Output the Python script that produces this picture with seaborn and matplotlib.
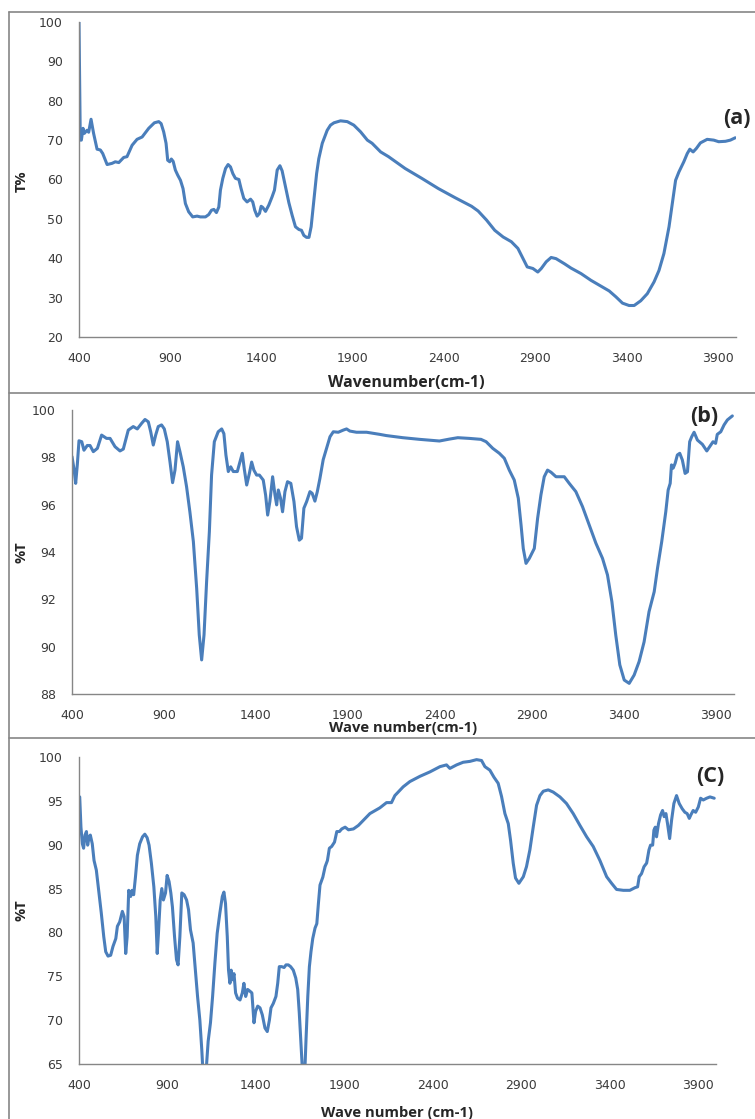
import numpy as np
import pandas as pd
import matplotlib
matplotlib.use("Agg")
import matplotlib.pyplot as plt
from matplotlib.lines import Line2D
import seaborn as sns

# Espectro (a)
wn_a = [400, 407, 413, 422, 429, 444, 453, 466, 480, 499, 517, 530, 554, 581, 599, 618, 645, 663,
        691, 718, 746, 782, 813, 837, 850, 864, 877, 886, 897, 906, 916, 928, 941, 956, 970, 983,
        1001, 1023, 1047, 1065, 1093, 1111, 1126, 1139, 1153, 1166, 1175, 1188, 1203, 1217, 1230,
        1243, 1257, 1276, 1288, 1303, 1321, 1340, 1352, 1363, 1376, 1389, 1398, 1407, 1422, 1440,
        1458, 1471, 1486, 1501, 1513, 1532, 1550, 1568, 1586, 1605, 1619, 1632, 1647, 1660, 1672,
        1687, 1702, 1714, 1733, 1760, 1778, 1797, 1833, 1870, 1906, 1943, 1980, 2006, 2053, 2096,
        2187, 2278, 2369, 2460, 2551, 2587, 2633, 2678, 2724, 2769, 2805, 2833, 2856, 2887, 2914,
        2933, 2960, 2987, 3014, 3060, 3096, 3151, 3205, 3260, 3305, 3342, 3378, 3414, 3442, 3478,
        3514, 3551, 3578, 3605, 3633, 3651, 3669, 3687, 3714, 3733, 3747, 3765, 3783, 3805, 3842,
        3878, 3905, 3942, 3969, 3996]
t_a = [100, 70, 70, 73, 71.7, 72.5, 72, 75.3, 71.7, 67.7, 67.5, 66.6, 63.8, 64.1, 64.5, 64.3, 65.6,
       65.8, 68.7, 70.2, 70.8, 73, 74.4, 74.7, 74.2, 72.1, 69.2, 64.9, 64.5, 65.2, 64.6, 62.4, 61.1,
       59.8, 57.7, 53.9, 51.8, 50.5, 50.7, 50.5, 50.5, 51.1, 52.2, 52.4, 51.6, 53, 57.3, 60.3, 62.8,
       63.8, 63.2, 61.5, 60.3, 60, 57.7, 55.2, 54.3, 55, 54.3, 52.2, 50.7, 51.4, 53.2, 52.9, 51.9,
       53.5, 55.6, 57.3, 62.4, 63.5, 62.2, 58.1, 54.1, 50.9, 48, 47.3, 47.1, 45.8, 45.3, 45.3, 48,
       54.7, 61.5, 65.3, 69.2, 72.5, 73.8, 74.4, 74.9, 74.7, 73.8, 72.1, 70, 69.2, 67, 65.8,
       62.8, 60.3, 57.7, 55.4, 53.2, 52, 49.7, 47.1, 45.4, 44.2, 42.5, 39.9, 37.8, 37.4, 36.5,
       37.4, 39.1, 40.2, 39.9, 38.6, 37.5, 36.1, 34.4, 32.9, 31.7, 30.2, 28.6, 28, 28, 29.2,
       31, 34, 36.9, 41.2, 48, 53.9, 59.8, 61.9, 64.5, 66.6, 67.7, 67, 67.9, 69.3, 70.2,
       70, 69.6, 69.7, 70, 70.6]

# Espectro (b)
wn_b = [400, 411, 420, 429, 438, 453, 465, 483, 498, 516, 538, 561, 574, 588, 607, 634, 661, 679,
        706, 733, 755, 779, 797, 815, 828, 842, 855, 869, 887, 902, 918, 933, 947, 960, 974, 987,
        1005, 1023, 1041, 1060, 1078, 1092, 1105, 1118, 1132, 1147, 1159, 1174, 1195, 1214, 1226,
        1237, 1250, 1263, 1277, 1299, 1313, 1326, 1337, 1350, 1364, 1377, 1389, 1404, 1419, 1440,
        1453, 1464, 1476, 1491, 1504, 1513, 1522, 1534, 1545, 1558, 1572, 1590, 1607, 1621, 1636,
        1648, 1661, 1676, 1694, 1706, 1721, 1734, 1748, 1766, 1784, 1803, 1821, 1848, 1875, 1893,
        1911, 1947, 2002, 2074, 2109, 2199, 2290, 2398, 2452, 2498, 2561, 2624, 2652, 2688, 2724,
        2751, 2778, 2805, 2827, 2842, 2854, 2869, 2887, 2914, 2932, 2950, 2968, 2986, 3005, 3032,
        3077, 3104, 3140, 3176, 3213, 3249, 3285, 3312, 3336, 3357, 3379, 3403, 3430, 3457, 3484,
        3511, 3538, 3566, 3584, 3607, 3629, 3642, 3653, 3660, 3669, 3680, 3692, 3705, 3719, 3734,
        3747, 3759, 3770, 3783, 3801, 3828, 3852, 3868, 3886, 3900, 3909, 3928, 3946, 3964, 3991]
t_b = [98.03, 97.5, 96.9, 97.7, 98.7, 98.66, 98.3, 98.5, 98.5, 98.24, 98.38, 98.94, 98.87, 98.8,
       98.8, 98.45, 98.27, 98.35, 99.15, 99.3, 99.2, 99.44, 99.6, 99.5, 99.08, 98.52, 98.94, 99.3,
       99.37, 99.2, 98.66, 97.8, 96.93, 97.46, 98.66, 98.24, 97.6, 96.76, 95.7, 94.44, 92.46, 90.5,
       89.44, 90.5, 92.75, 94.86, 97.25, 98.66, 99.08, 99.2, 99.0, 98.1, 97.4, 97.6, 97.4, 97.4,
       97.8, 98.17, 97.5, 96.83, 97.3, 97.8, 97.46, 97.25, 97.25, 97.04, 96.4, 95.56, 96.13, 97.18,
       96.4, 95.99, 96.62, 96.27, 95.7, 96.55, 96.97, 96.9, 96.13, 95.07, 94.5, 94.58, 95.85, 96.13,
       96.55, 96.48, 96.15, 96.55, 97.1, 97.9, 98.38, 98.87, 99.08, 99.06, 99.15, 99.2, 99.11,
       99.06, 99.06, 98.97, 98.92, 98.83, 98.76, 98.69, 98.77, 98.83, 98.8, 98.76, 98.66, 98.38,
       98.17, 97.96, 97.46, 97.04, 96.27, 95.14, 94.15, 93.52, 93.73, 94.15, 95.42, 96.41, 97.18,
       97.46, 97.37, 97.18, 97.18, 96.9, 96.55, 95.92, 95.14, 94.37, 93.73, 93.03, 91.9, 90.49,
       89.23, 88.59, 88.45, 88.8, 89.37, 90.2, 91.48, 92.32, 93.31, 94.44, 95.7, 96.62, 96.9,
       97.68, 97.54, 97.75, 98.1, 98.17, 97.89, 97.32, 97.39, 98.66, 98.87, 99.06, 98.73, 98.55,
       98.27, 98.45, 98.66, 98.59, 98.97, 99.08, 99.37, 99.58, 99.75]

# Espectro (c)
wn_c = [404, 411, 419, 426, 434, 442, 449, 457, 464, 475, 485, 498, 511, 526, 540, 551, 564, 579,
        592, 608, 617, 630, 645, 655, 664, 672, 681, 692, 700, 709, 719, 730, 743, 759, 772, 785,
        796, 809, 823, 834, 842, 849, 859, 868, 877, 889, 898, 909, 919, 928, 940, 951, 960, 970,
        981, 994, 1008, 1019, 1030, 1045, 1058, 1070, 1083, 1094, 1102, 1109, 1117, 1130, 1143,
        1155, 1168, 1181, 1196, 1210, 1219, 1228, 1238, 1245, 1253, 1260, 1268, 1276, 1285, 1296,
        1310, 1323, 1332, 1342, 1353, 1366, 1377, 1389, 1398, 1410, 1423, 1436, 1451, 1464, 1476,
        1485, 1498, 1513, 1523, 1532, 1545, 1559, 1570, 1583, 1596, 1611, 1625, 1636, 1645, 1655,
        1664, 1670, 1676, 1683, 1693, 1702, 1711, 1721, 1734, 1744, 1753, 1762, 1778, 1791, 1804,
        1815, 1828, 1844, 1857, 1872, 1885, 1904, 1923, 1951, 1979, 2008, 2044, 2100, 2138, 2166,
        2185, 2232, 2270, 2327, 2383, 2440, 2477, 2496, 2534, 2571, 2609, 2647, 2675, 2694, 2722,
        2745, 2769, 2788, 2807, 2826, 2839, 2854, 2867, 2886, 2911, 2929, 2948, 2967, 2986, 3005,
        3024, 3052, 3080, 3118, 3155, 3193, 3231, 3269, 3306, 3344, 3382, 3410, 3438, 3476, 3513,
        3542, 3557, 3566, 3579, 3593, 3608, 3621, 3630, 3642, 3649, 3657, 3664, 3675, 3687, 3698,
        3707, 3717, 3726, 3738, 3749, 3762, 3777, 3792, 3809, 3824, 3837, 3849, 3858, 3871, 3885,
        3900, 3913, 3928, 3947, 3966, 3990]
t_c = [95.45, 92, 90.1, 89.6, 91.1, 91.5, 89.95, 90.9, 91.1, 90.1, 88.2, 87.1, 84.8, 82.2, 79.5,
       77.8, 77.3, 77.4, 78.4, 79.3, 80.7, 81.2, 82.4, 81.8, 77.6, 79.5, 84.8, 84.1, 84.8, 84.3,
       86.3, 88.8, 90.1, 90.9, 91.2, 90.8, 89.95, 87.9, 85.2, 81.8, 77.6, 79.9, 83.7, 85, 83.7,
       84.5, 86.5, 85.8, 84.5, 82.9, 79.5, 76.9, 76.3, 79.5, 84.5, 84.3, 83.7, 82.6, 80.3, 78.8,
       75.7, 72.7, 70, 66.6, 63.5, 62.5, 63.8, 67.6, 69.7, 72.7, 76.5, 79.9, 82.2, 84.1, 84.6,
       83.3, 79.5, 75.7, 74.2, 75.7, 74.6, 75.3, 73.1, 72.5, 72.3, 73.1, 74.2, 72.7, 73.5, 73.3,
       73.1, 69.7, 71, 71.6, 71.4, 70.6, 69.1, 68.7, 70, 71.4, 71.9, 72.7, 74.2, 76.1, 76.1, 76,
       76.3, 76.3, 76.1, 75.7, 74.8, 73.5, 70.8, 67, 63.8, 62.8, 64.0, 67.8, 72.7, 76.1, 77.8,
       79.3, 80.5, 81, 83.3, 85.4, 86.3, 87.5, 88.2, 89.6, 89.8, 90.3, 91.5, 91.5, 91.8, 92,
       91.7, 91.8, 92.2, 92.8, 93.55, 94.2, 94.8, 94.8, 95.6, 96.6, 97.2, 97.8, 98.3, 98.9, 99.1,
       98.7, 99.1, 99.4, 99.5, 99.7, 99.6, 98.9, 98.5, 97.7, 97, 95.5, 93.55, 92.4, 90.5, 87.9,
       86.2, 85.6, 86.35, 87.5, 89.4, 92, 94.5, 95.6, 96.1, 96.25, 96, 95.45, 94.7, 93.55, 92.2,
       90.9, 89.8, 88.2, 86.35, 85.6, 84.9, 84.8, 84.8, 85.1, 85.2, 86.35, 86.7, 87.5, 87.9, 89.4,
       89.95, 89.95, 91.65, 92, 90.9, 92.4, 93.4, 93.9, 93.2, 93.55, 92.4, 90.7, 92.8, 94.7, 95.6,
       94.7, 94.1, 93.7, 93.55, 93, 93.4, 93.9, 93.7, 94.3, 95.3, 95.1, 95.3, 95.45, 95.3]

xticks = [400, 900, 1400, 1900, 2400, 2900, 3400, 3900]
cor_linha = "#4A7EBB"
cor_eixo = "#868686"

sns.set_style("white")
plt.rcParams["font.family"] = ["DejaVu Sans"]

fig = plt.figure(figsize=(7.55, 11.19), dpi=100)
W, H = 755.0, 1119.0


def caixa(px_l, px_t, px_r, px_b):
    return [px_l / W, 1 - px_b / H, (px_r - px_l) / W, (px_b - px_t) / H]


paineis = [
    dict(wn=wn_a, t=t_a, box=caixa(79, 22, 736, 337), ylim=(20, 100), yticks=range(20, 101, 10),
         ylabel="T%", xlabel="Wavenumber(cm-1)", xlab_fs=11.5, tag="(a)", tag_xy=(737, 119),
         xlab_xy=(406, 383), ylab_y=181),
    dict(wn=wn_b, t=t_b, box=caixa(72, 410, 734, 694), ylim=(88, 100), yticks=range(88, 101, 2),
         ylabel="%T", xlabel="Wave number(cm-1)", xlab_fs=10.6, tag="(b)", tag_xy=(704, 416),
         xlab_xy=(403, 728), ylab_y=552),
    dict(wn=wn_c, t=t_c, box=caixa(79, 757, 716, 1064), ylim=(65, 100), yticks=range(65, 101, 5),
         ylabel="%T", xlabel="Wave number (cm-1)", xlab_fs=10.6, tag="(C)", tag_xy=(710, 776),
         xlab_xy=(397, 1113), ylab_y=910),
]

for p in paineis:
    ax = fig.add_axes(p["box"])
    df = pd.DataFrame({"wn": p["wn"], "t": p["t"]})
    sns.lineplot(data=df, x="wn", y="t", ax=ax, color=cor_linha, linewidth=2.2, estimator=None, sort=False)
    ax.set_xlim(400, 4000)
    ax.set_ylim(*p["ylim"])
    ax.set_xticks(xticks)
    ax.set_yticks(list(p["yticks"]))
    ax.set_xlabel("")
    ax.set_ylabel("")
    for s in ["top", "right"]:
        ax.spines[s].set_visible(False)
    for s in ["left", "bottom"]:
        ax.spines[s].set_color(cor_eixo)
        ax.spines[s].set_linewidth(1.0)
    ax.tick_params(axis="both", direction="out", length=4.5, width=1.0, color=cor_eixo,
                   labelsize=9, labelcolor="#3a3a3a")
    ax.tick_params(axis="y", pad=7)
    ax.tick_params(axis="x", pad=6)
    ax.patch.set_alpha(0)

    fig.text(p["tag_xy"][0] / W, 1 - p["tag_xy"][1] / H, p["tag"], fontsize=15.5, fontweight="bold",
             ha="center", va="center", family="Open Sans")
    fig.text(p["xlab_xy"][0] / W, 1 - p["xlab_xy"][1] / H, p["xlabel"], fontsize=p["xlab_fs"],
             fontweight="bold", ha="center", va="center", family="Open Sans")
    fig.text(22 / W, 1 - p["ylab_y"] / H, p["ylabel"], fontsize=10.5, fontweight="bold", rotation=90,
             ha="center", va="center", family="Open Sans")

# bordas dos quadros
for y in [12, 393, 738]:
    fig.add_artist(Line2D([9 / W, 1], [1 - y / H, 1 - y / H], color=cor_eixo, linewidth=1.2))
fig.add_artist(Line2D([9 / W, 9 / W], [1 - 12 / H, 0], color=cor_eixo, linewidth=1.2))

fig.savefig("out.png", dpi=100)
